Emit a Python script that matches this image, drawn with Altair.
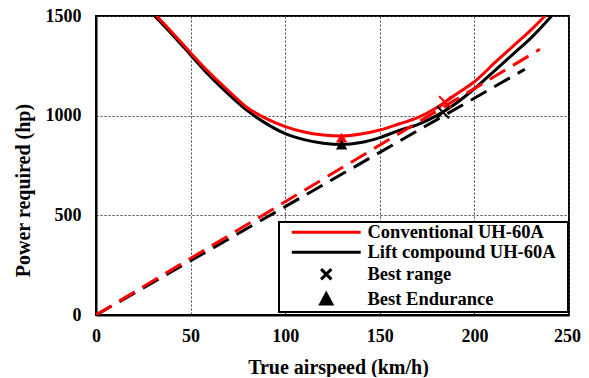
import altair as alt
import pandas as pd

# --- data ---
speed_conv = [32, 40, 50, 60, 70, 80, 90, 100, 110, 120, 130, 140, 150, 160, 170, 180, 190, 200, 211.8, 220.6, 229.4, 237.3]
power_conv = [1500, 1420, 1315, 1215, 1125, 1040, 985, 945, 918, 903, 898, 908, 928, 958, 990, 1040, 1105, 1170, 1275, 1350, 1425, 1500]

speed_lift = [31, 40, 50, 60, 70, 80, 90, 100, 110, 120, 130, 140, 150, 160, 170, 180, 190, 200, 211.8, 220.6, 229.4, 240.8]
power_lift = [1500, 1410, 1305, 1200, 1108, 1025, 960, 910, 880, 862, 855, 865, 890, 925, 955, 1000, 1060, 1135, 1235, 1310, 1385, 1500]

tangent_conv_speed = [0, 234.6]
tangent_conv_power = [0, 1333]
tangent_lift_speed = [0, 226.7]
tangent_lift_power = [0, 1233]

best_range_conv = [184.5, 1067]   # speed, power
best_range_lift = [183.4, 1017]
best_end_conv = [129.8, 890]
best_end_lift = [129.8, 855]

legend_labels = ["Conventional UH-60A", "Lift compound UH-60A", "Best range", "Best Endurance"]

x_ticks = [0, 50, 100, 150, 200, 250]
y_ticks = [0, 500, 1000, 1500]

RED = "#ff0000"
BLACK = "#000000"
FONT = "Liberation Serif"

conv = pd.DataFrame({"speed": speed_conv, "power": power_conv})
lift = pd.DataFrame({"speed": speed_lift, "power": power_lift})
tconv = pd.DataFrame({"speed": tangent_conv_speed, "power": tangent_conv_power})
tlift = pd.DataFrame({"speed": tangent_lift_speed, "power": tangent_lift_power})


def pt(p):
    return pd.DataFrame({"speed": [p[0]], "power": [p[1]]})


leg = pd.DataFrame({"item": legend_labels})

x_enc = alt.X("speed:Q", scale=alt.Scale(domain=[0, 250], nice=False),
              axis=alt.Axis(values=x_ticks, format="d", title="True airspeed (km/h)", titleX=242,
                            labelOffset={"condition": {"test": "datum.value == 250", "value": -2}, "value": 0}))
y_enc = alt.Y("power:Q", scale=alt.Scale(domain=[0, 1500], nice=False),
              axis=alt.Axis(values=y_ticks, format="d", title="Power required (hp)", titleY=174))

lift_line = alt.Chart(lift).mark_line(color=BLACK, strokeWidth=3, interpolate="monotone", clip=True).encode(x=x_enc, y=y_enc)
conv_line = alt.Chart(conv).mark_line(color=RED, strokeWidth=3, interpolate="monotone", clip=True).encode(x=x_enc, y=y_enc)
lift_tan = alt.Chart(tlift).mark_line(color=BLACK, strokeWidth=3, strokeDash=[18, 9], clip=True).encode(x=x_enc, y=y_enc)
conv_tan = alt.Chart(tconv).mark_line(color=RED, strokeWidth=3, strokeDash=[18, 9], clip=True).encode(x=x_enc, y=y_enc)

XMARK = "M-1,-1L1,1M-1,1L1,-1"


def xmark(p, c):
    return alt.Chart(pt(p)).mark_point(shape=XMARK, filled=False, strokeWidth=2, size=144, opacity=1, color=c).encode(x=x_enc, y=y_enc)


def tri(p, c):
    return alt.Chart(pt(p)).mark_point(shape="triangle-up", filled=True, size=130, opacity=1, color=c).encode(x=x_enc, y=y_enc)


LINE = "M-5,0L5,0"
XPATH = "M-0.75,-0.75L0.75,0.75M-0.75,0.75L0.75,-0.75"
TRI = "M0,-0.8L0.8,0.7L-0.8,0.7Z"

LEG = dict(title="\u00a0", orient="none", legendX=183, legendY=206, titleOrient="right")

legend_layer = alt.Chart(leg).mark_point(opacity=1, strokeWidth=3).encode(
    x=alt.value(0), y=alt.value(0),
    shape=alt.Shape("item:N", scale=alt.Scale(domain=legend_labels, range=[LINE, LINE, XPATH, TRI]),
                    legend=alt.Legend(**LEG)),
    stroke=alt.Stroke("item:N", scale=alt.Scale(domain=legend_labels, range=[RED, BLACK, BLACK, BLACK]),
                      legend=alt.Legend(**LEG)),
    fill=alt.Fill("item:N", scale=alt.Scale(domain=legend_labels, range=["transparent", "transparent", "transparent", BLACK]),
                  legend=alt.Legend(**LEG)),
).transform_filter("false")

chart = alt.layer(
    lift_line, conv_line, lift_tan, conv_tan,
    xmark(best_range_conv, RED), xmark(best_range_lift, BLACK),
    tri(best_end_conv, RED), tri(best_end_lift, BLACK),
    legend_layer,
).properties(
    width=473, height=299,
    autosize=alt.AutoSizeParams(type="none"),
    padding={"left": 88, "top": 8, "right": 12, "bottom": 62},
).configure_view(
    stroke=BLACK, strokeWidth=2
).configure_axis(
    domainColor=BLACK, domainWidth=2, ticks=False, labelFlush=False,
    grid=True, gridColor="#444444", gridDash=[2, 2], gridWidth=1,
    labelFont=FONT, labelFontWeight="bold", labelFontSize=18, labelColor=BLACK, labelPadding=12,
    titleFont=FONT, titleFontWeight="bold", titleFontSize=20, titleColor=BLACK,
).configure_axisX(titlePadding=12).configure_axisY(titlePadding=12, labelPadding=15).configure_legend(
    labelFont=FONT, labelFontWeight="bold", labelFontSize=18.5, labelColor=BLACK, labelLimit=400,
    symbolSize=190, symbolStrokeWidth=3, symbolOffset=37, labelOffset=32, rowPadding=1,
    padding=1, strokeColor=BLACK, fillColor="white", strokeWidth=2,
    titleFontSize=17, titlePadding=11, titleFont=FONT,
)

chart.save("out.html", embed_options={"renderer": "svg", "actions": False})
